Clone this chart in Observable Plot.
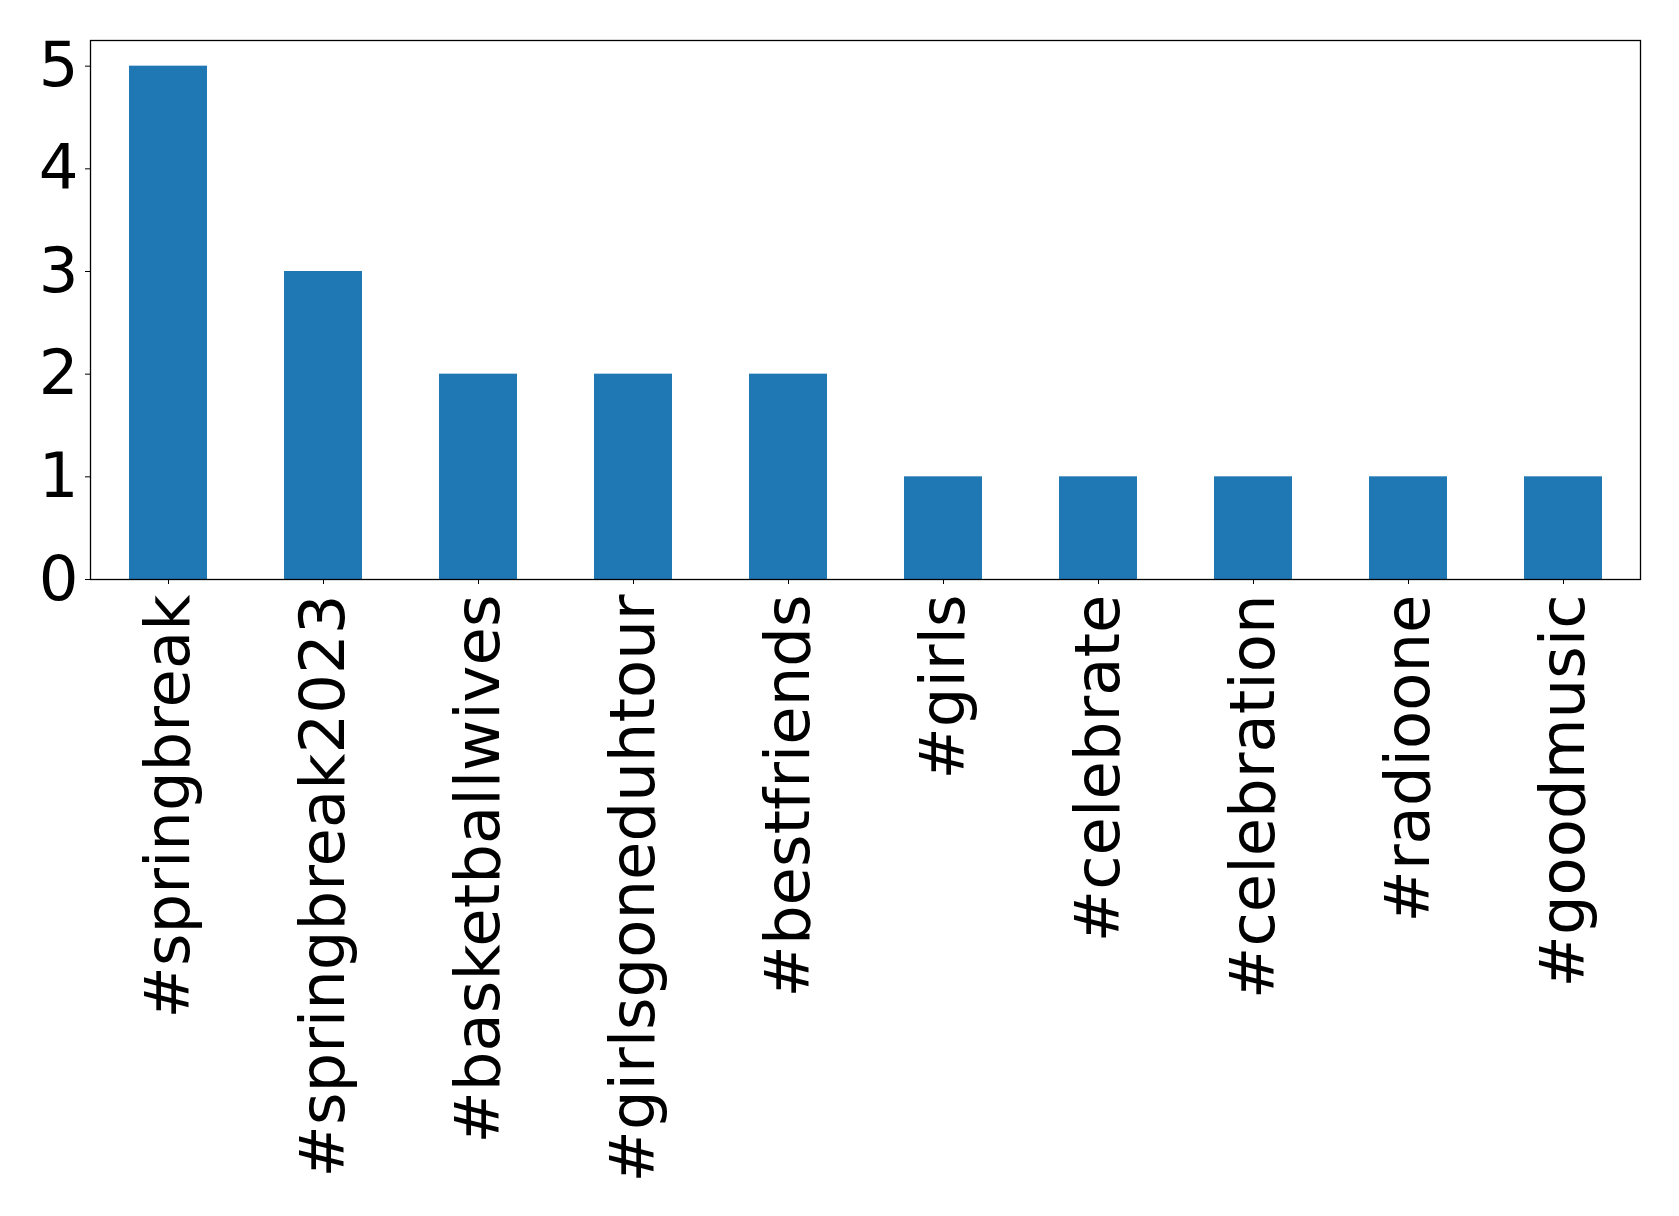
<!DOCTYPE html>
<html>
<head>
<meta charset="utf-8">
<script src="https://cdn.jsdelivr.net/npm/d3@7"></script>
<script src="https://cdn.jsdelivr.net/npm/@observablehq/plot@0.6"></script>
<style>
  html, body { margin: 0; padding: 0; background: #fff; }
</style>
</head>
<body>
<div id="chart"></div>
<script>
const tags = ["#springbreak", "#springbreak2023", "#basketballwives", "#girlsgoneduhtour", "#bestfriends", "#girls", "#celebrate", "#celebration", "#radioone", "#goodmusic"];
const counts = [5, 3, 2, 2, 2, 1, 1, 1, 1, 1];
const yTicks = [0, 1, 2, 3, 4, 5];

const data = tags.map((t, i) => ({tag: t, count: counts[i]}));

const chart = Plot.plot({
  width: 1679,
  height: 1216,
  marginLeft: 90,
  marginRight: 39,
  marginTop: 40,
  marginBottom: 637,
  style: {fontFamily: "'DejaVu Sans', sans-serif", fontSize: "62.5px", color: "black", background: "white"},
  x: {type: "band", domain: tags, paddingInner: 0.5, paddingOuter: 0.25},
  y: {domain: [0, 5.25]},
  marks: [
    Plot.barY(data, {x: "tag", y: "count", fill: "#1f77b4"}),
    Plot.axisY({ticks: yTicks, tickFormat: d => String(d), tickSize: 5, tickPadding: 7, fontSize: 62.5, label: null, stroke: "black"}),
    Plot.axisX({tickRotate: -90, tickSize: 5, tickPadding: 10, fontSize: 62.5, label: null, stroke: "black"}),
    Plot.frame({stroke: "black", strokeWidth: 1.3})
  ]
});
document.getElementById("chart").appendChild(chart);
</script>
</body>
</html>
